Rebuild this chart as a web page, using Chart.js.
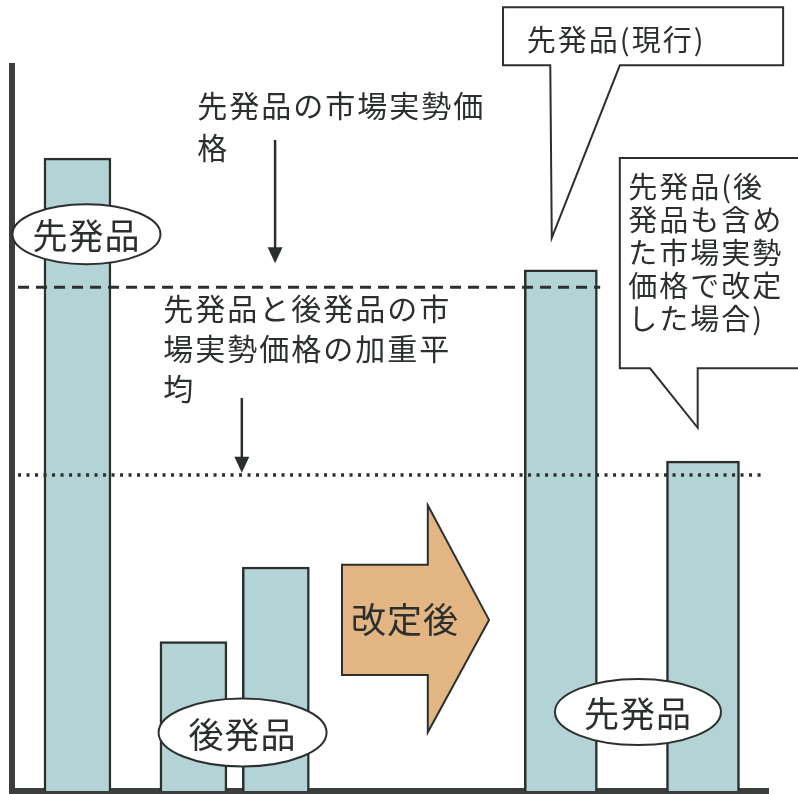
<!DOCTYPE html>
<html>
<head>
<meta charset="utf-8">
<script src="https://cdn.jsdelivr.net/npm/chart.js@4"></script>
<style>
  body { margin: 0; background: #fff; }
</style>
</head>
<body>
<canvas id="priceChart" width="798" height="794"></canvas>
<script>
// Bars: position along the x axis (0-100) and relative price (0-100)
const categories = ['先発品', '後発品A', '後発品B', '先発品(現行)', '先発品(改定後)'];
const barPositions = [8.66, 24.0, 34.9, 72.6, 91.4];
const barValues = [87.3, 20.6, 30.9, 71.9, 45.5];
const beforeIdx = [0, 1, 2];
const afterIdx = [3, 4];

// Reference levels
const brandMarketPrice = 69.5;   // 先発品の市場実勢価格
const weightedAverage = 43.6;    // 加重平均
const brandLineRange = [0.8, 77.8];
const averageLineRange = [0.8, 99.6];

const ink = '#2b302f';
const barFill = '#b4d3d6';
const jp = '"Noto Sans CJK JP", "Noto Sans", sans-serif';

// Annotations in data units
const textBlocks = [
  { x: 24.5, y: 94.5, lh: 42, size: 30, lines: ['先発品の市場実勢価', '格'] },
  { x: 20.0, y: 66.5, lh: 40, size: 30, lines: ['先発品と後発品の市', '場実勢価格の加重平', '均'] },
  { x: 68.1, y: 103.6, lh: 33, size: 29, lines: ['先発品(現行)'] },
  { x: 81.5, y: 83.3, lh: 33, size: 29, lines: ['先発品(後', '発品も含め', 'た市場実勢', '価格で改定', 'した場合)'] }
];
const thinArrows = [
  { x: 34.8, from: 89.8, to: 72.8 },
  { x: 30.4, from: 54.2, to: 43.9 }
];
const callouts = [
  [[64.95, 108.1], [102.0, 108.1], [102.0, 100.1], [80.4, 100.1], [71.4, 76.3], [71.2, 100.1], [64.95, 100.1]],
  [[80.4, 87.3], [104.9, 87.3], [104.9, 58.3], [90.7, 58.3], [90.7, 50.1], [84.4, 58.3], [80.4, 58.3]]
];
const bigArrow = [[43.65, 31.2], [55.0, 31.2], [55.0, 39.4], [63.1, 23.6], [55.0, 8.1], [55.0, 16.0], [43.65, 16.0]];
const bigArrowLabel = { x: 52.0, y: 23.6, text: '改定後' };
const ovals = [
  { x: 9.85, y: 76.8, rx: 74, ry: 30, text: '先発品' },
  { x: 30.5, y: 8.07, rx: 84, ry: 34, text: '後発品' },
  { x: 82.8, y: 10.9, rx: 83, ry: 33, text: '先発品' }
];

const notesPlugin = {
  id: 'notes',
  afterDraw(chart) {
    const { ctx, scales: { x, y } } = chart;
    const X = v => x.getPixelForValue(v);
    const Y = v => y.getPixelForValue(v);
    ctx.save();
    ctx.lineJoin = 'miter';

    // big orange arrow
    ctx.beginPath();
    bigArrow.forEach((p, i) => i ? ctx.lineTo(X(p[0]), Y(p[1])) : ctx.moveTo(X(p[0]), Y(p[1])));
    ctx.closePath();
    ctx.fillStyle = '#e2b583';
    ctx.fill();
    ctx.lineWidth = 2;
    ctx.strokeStyle = ink;
    ctx.stroke();
    ctx.fillStyle = ink;
    ctx.font = '35px ' + jp;
    ctx.textAlign = 'center';
    ctx.textBaseline = 'middle';
    ctx.letterSpacing = '1px';
    ctx.fillText(bigArrowLabel.text, X(bigArrowLabel.x), Y(bigArrowLabel.y));

    // speech callouts
    callouts.forEach(pts => {
      ctx.beginPath();
      pts.forEach((p, i) => i ? ctx.lineTo(X(p[0]), Y(p[1])) : ctx.moveTo(X(p[0]), Y(p[1])));
      ctx.closePath();
      ctx.fillStyle = '#fff';
      ctx.fill();
      ctx.lineWidth = 2;
      ctx.strokeStyle = ink;
      ctx.stroke();
    });

    // ovals
    ovals.forEach(o => {
      ctx.beginPath();
      ctx.ellipse(X(o.x), Y(o.y), o.rx, o.ry, 0, 0, Math.PI * 2);
      ctx.fillStyle = '#fff';
      ctx.fill();
      ctx.lineWidth = 2;
      ctx.strokeStyle = ink;
      ctx.stroke();
      ctx.fillStyle = ink;
      ctx.font = '35px ' + jp;
      ctx.textAlign = 'center';
      ctx.fillText(o.text, X(o.x), Y(o.y) + 2);
    });

    // text blocks
    ctx.textAlign = 'left';
    ctx.fillStyle = ink;
    textBlocks.forEach(b => {
      ctx.font = b.size + 'px ' + jp;
      ctx.letterSpacing = '2px';
      b.lines.forEach((line, i) => ctx.fillText(line, X(b.x), Y(b.y) + i * b.lh));
    });

    // thin down arrows
    thinArrows.forEach(a => {
      const ax = X(a.x), y1 = Y(a.from), y2 = Y(a.to);
      ctx.beginPath();
      ctx.moveTo(ax, y1);
      ctx.lineTo(ax, y2 - 14);
      ctx.lineWidth = 2.5;
      ctx.strokeStyle = ink;
      ctx.stroke();
      ctx.beginPath();
      ctx.moveTo(ax - 7.5, y2 - 16);
      ctx.lineTo(ax + 7.5, y2 - 16);
      ctx.lineTo(ax, y2);
      ctx.closePath();
      ctx.fill();
    });
    ctx.restore();
  }
};

const pick = idx => idx.map(i => ({ x: barPositions[i], y: barValues[i] }));

new Chart(document.getElementById('priceChart'), {
  type: 'bar',
  data: {
    datasets: [
      {
        type: 'line', label: '先発品の市場実勢価格', order: 0,
        data: brandLineRange.map(v => ({ x: v, y: brandMarketPrice })),
        borderColor: ink, borderWidth: 3, borderDash: [11, 7], pointRadius: 0
      },
      {
        type: 'line', label: '加重平均', order: 0,
        data: averageLineRange.map(v => ({ x: v, y: weightedAverage })),
        borderColor: ink, borderWidth: 3.5, borderDash: [3, 5.5], pointRadius: 0
      },
      {
        label: '改定前', order: 1, data: pick(beforeIdx),
        backgroundColor: barFill, borderColor: ink, borderWidth: 2.5, barThickness: 67
      },
      {
        label: '改定後', order: 1, data: pick(afterIdx),
        backgroundColor: barFill, borderColor: ink, borderWidth: 2.5, barThickness: 73
      }
    ]
  },
  options: {
    responsive: false,
    animation: false,
    devicePixelRatio: 1,
    layout: { padding: { left: 12, top: 66, right: 30, bottom: 3 } },
    datasets: { bar: { grouped: false } },
    plugins: { legend: { display: false }, tooltip: { enabled: false } },
    scales: {
      x: {
        type: 'linear', min: 0, max: 100, offset: false,
        grid: { display: false, drawTicks: false },
        ticks: { display: false },
        border: { display: true, width: 6, color: '#3a3f3e' }
      },
      y: {
        min: 0, max: 100,
        grid: { display: false, drawTicks: false },
        ticks: { display: false },
        border: { display: true, width: 6, color: '#3a3f3e' }
      }
    }
  },
  plugins: [notesPlugin]
});
</script>
</body>
</html>
